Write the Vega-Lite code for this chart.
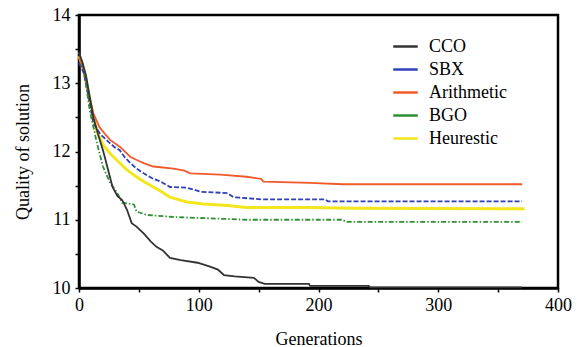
{
  "$schema": "https://vega.github.io/schema/vega-lite/v6.json",
  "width": 479,
  "height": 273,
  "autosize": "none",
  "padding": {"left": 79, "top": 15, "right": 23, "bottom": 59},
  "background": "white",
  "config": {
    "view": {"stroke": "black", "strokeWidth": 2.5},
    "font": "Liberation Serif",
    "style": {"guide-label": {"font": "Liberation Serif"}, "guide-title": {"font": "Liberation Serif"}},
    "axis": {"grid": false, "domainColor": "black", "domainWidth": 2.5, "tickColor": "black", "tickWidth": 1.5, "tickSize": 4, "labelColor": "black", "titleColor": "black", "labelFont": "Liberation Serif", "titleFont": "Liberation Serif", "labelFontSize": 18, "titleFontSize": 18, "titleFontWeight": "normal"}
  },
  "datasets": {
    "curves": [
      {"g":0,"q":13.45,"m":"CCO"},{"g":3,"q":13.3,"m":"CCO"},{"g":6,"q":13.1,"m":"CCO"},{"g":9,"q":12.8,"m":"CCO"},{"g":12,"q":12.5,"m":"CCO"},{"g":16,"q":12.25,"m":"CCO"},{"g":20,"q":12.02,"m":"CCO"},{"g":24,"q":11.75,"m":"CCO"},{"g":28,"q":11.48,"m":"CCO"},{"g":32,"q":11.35,"m":"CCO"},{"g":36,"q":11.29,"m":"CCO"},{"g":40,"q":11.15,"m":"CCO"},{"g":44,"q":10.95,"m":"CCO"},{"g":48,"q":10.9,"m":"CCO"},{"g":54,"q":10.8,"m":"CCO"},{"g":60,"q":10.68,"m":"CCO"},{"g":65,"q":10.6,"m":"CCO"},{"g":70,"q":10.55,"m":"CCO"},{"g":76,"q":10.44,"m":"CCO"},{"g":85,"q":10.41,"m":"CCO"},{"g":99,"q":10.37,"m":"CCO"},{"g":110,"q":10.31,"m":"CCO"},{"g":116,"q":10.27,"m":"CCO"},{"g":121,"q":10.19,"m":"CCO"},{"g":130,"q":10.17,"m":"CCO"},{"g":146,"q":10.15,"m":"CCO"},{"g":150,"q":10.09,"m":"CCO"},{"g":155,"q":10.06,"m":"CCO"},{"g":192,"q":10.06,"m":"CCO"},{"g":193,"q":10.03,"m":"CCO"},{"g":242,"q":10.03,"m":"CCO"},{"g":243,"q":10.01,"m":"CCO"},{"g":370,"q":10.01,"m":"CCO"},
      {"g":0,"q":13.3,"m":"SBX"},{"g":4,"q":13.15,"m":"SBX"},{"g":8,"q":12.8,"m":"SBX"},{"g":12,"q":12.42,"m":"SBX"},{"g":18,"q":12.25,"m":"SBX"},{"g":26,"q":12.12,"m":"SBX"},{"g":30,"q":12.06,"m":"SBX"},{"g":34,"q":12.02,"m":"SBX"},{"g":38,"q":11.92,"m":"SBX"},{"g":43,"q":11.83,"m":"SBX"},{"g":48,"q":11.75,"m":"SBX"},{"g":54,"q":11.68,"m":"SBX"},{"g":62,"q":11.6,"m":"SBX"},{"g":68,"q":11.56,"m":"SBX"},{"g":76,"q":11.48,"m":"SBX"},{"g":90,"q":11.47,"m":"SBX"},{"g":102,"q":11.41,"m":"SBX"},{"g":124,"q":11.39,"m":"SBX"},{"g":129,"q":11.33,"m":"SBX"},{"g":152,"q":11.3,"m":"SBX"},{"g":205,"q":11.3,"m":"SBX"},{"g":208,"q":11.27,"m":"SBX"},{"g":370,"q":11.27,"m":"SBX"},
      {"g":0,"q":13.4,"m":"Arithmetic"},{"g":5,"q":13.1,"m":"Arithmetic"},{"g":8,"q":12.85,"m":"Arithmetic"},{"g":12,"q":12.56,"m":"Arithmetic"},{"g":17,"q":12.36,"m":"Arithmetic"},{"g":22,"q":12.25,"m":"Arithmetic"},{"g":26,"q":12.17,"m":"Arithmetic"},{"g":34,"q":12.07,"m":"Arithmetic"},{"g":43,"q":11.92,"m":"Arithmetic"},{"g":50,"q":11.86,"m":"Arithmetic"},{"g":54,"q":11.83,"m":"Arithmetic"},{"g":62,"q":11.78,"m":"Arithmetic"},{"g":79,"q":11.75,"m":"Arithmetic"},{"g":88,"q":11.72,"m":"Arithmetic"},{"g":93,"q":11.68,"m":"Arithmetic"},{"g":118,"q":11.66,"m":"Arithmetic"},{"g":140,"q":11.63,"m":"Arithmetic"},{"g":152,"q":11.6,"m":"Arithmetic"},{"g":154,"q":11.56,"m":"Arithmetic"},{"g":193,"q":11.54,"m":"Arithmetic"},{"g":220,"q":11.52,"m":"Arithmetic"},{"g":370,"q":11.52,"m":"Arithmetic"},
      {"g":0,"q":13.45,"m":"BGO"},{"g":4,"q":13.2,"m":"BGO"},{"g":9,"q":12.6,"m":"BGO"},{"g":15,"q":12.12,"m":"BGO"},{"g":20,"q":11.78,"m":"BGO"},{"g":26,"q":11.54,"m":"BGO"},{"g":32,"q":11.39,"m":"BGO"},{"g":36,"q":11.25,"m":"BGO"},{"g":44,"q":11.23,"m":"BGO"},{"g":46,"q":11.22,"m":"BGO"},{"g":48,"q":11.12,"m":"BGO"},{"g":57,"q":11.07,"m":"BGO"},{"g":79,"q":11.04,"m":"BGO"},{"g":110,"q":11.02,"m":"BGO"},{"g":140,"q":11.0,"m":"BGO"},{"g":220,"q":11.0,"m":"BGO"},{"g":223,"q":10.97,"m":"BGO"},{"g":370,"q":10.97,"m":"BGO"},
      {"g":0,"q":13.4,"m":"Heurestic"},{"g":4,"q":13.2,"m":"Heurestic"},{"g":8,"q":12.85,"m":"Heurestic"},{"g":12,"q":12.5,"m":"Heurestic"},{"g":15,"q":12.29,"m":"Heurestic"},{"g":20,"q":12.1,"m":"Heurestic"},{"g":26,"q":11.97,"m":"Heurestic"},{"g":33,"q":11.85,"m":"Heurestic"},{"g":40,"q":11.73,"m":"Heurestic"},{"g":47,"q":11.64,"m":"Heurestic"},{"g":54,"q":11.56,"m":"Heurestic"},{"g":62,"q":11.48,"m":"Heurestic"},{"g":70,"q":11.4,"m":"Heurestic"},{"g":76,"q":11.33,"m":"Heurestic"},{"g":90,"q":11.26,"m":"Heurestic"},{"g":104,"q":11.23,"m":"Heurestic"},{"g":124,"q":11.21,"m":"Heurestic"},{"g":140,"q":11.18,"m":"Heurestic"},{"g":193,"q":11.18,"m":"Heurestic"},{"g":230,"q":11.17,"m":"Heurestic"},{"g":372,"q":11.16,"m":"Heurestic"}
    ]
  },
  "data": {"name": "curves"},
  "encoding": {
    "x": {"field": "g", "type": "quantitative", "title": "Generations",
      "scale": {"domain": [0, 400], "nice": false},
      "axis": {"values": [0,50,100,150,200,250,300,350,400], "labelExpr": "datum.value % 100 === 0 ? '' + datum.value : ''", "labelPadding": 4, "titlePadding": 16, "labelFlush": false, "labelFont": "Liberation Serif", "titleFont": "Liberation Serif"}},
    "y": {"field": "q", "type": "quantitative", "title": "Quality of solution",
      "scale": {"domain": [10, 14], "nice": false, "zero": false},
      "axis": {"values": [10,10.5,11,11.5,12,12.5,13,13.5,14], "labelExpr": "datum.value % 1 === 0 ? '' + datum.value : ''", "labelPadding": 5, "titlePadding": 20, "labelFlush": false, "labelFont": "Liberation Serif", "titleFont": "Liberation Serif"}},
    "color": {"field": "m", "type": "nominal",
      "scale": {"domain": ["CCO", "SBX", "Arithmetic", "BGO", "Heurestic"], "range": ["#333333", "#3040b8", "#f05a2a", "#2f8f35", "#f2e61c"]},
      "legend": {"title": null, "orient": "none", "legendX": 311, "legendY": 16, "symbolType": "stroke", "symbolSize": 600, "symbolStrokeWidth": 2.5, "labelFontSize": 18, "labelFont": "Liberation Serif", "labelColor": "black", "labelOffset": 10, "rowPadding": 0, "fillColor": "white", "padding": 2}
    }
  },
  "layer": [
    {"transform": [{"filter": "datum.m === 'Heurestic'"}], "mark": {"type": "line", "strokeWidth": 3}},
    {"transform": [{"filter": "datum.m === 'Arithmetic'"}], "mark": {"type": "line", "strokeWidth": 1.8}},
    {"transform": [{"filter": "datum.m === 'SBX'"}], "mark": {"type": "line", "strokeWidth": 1.8, "strokeDash": [5, 2]}},
    {"transform": [{"filter": "datum.m === 'BGO'"}], "mark": {"type": "line", "strokeWidth": 1.8, "strokeDash": [5, 2, 1.5, 2]}},
    {"transform": [{"filter": "datum.m === 'CCO'"}], "mark": {"type": "line", "strokeWidth": 1.8}}
  ]
}
